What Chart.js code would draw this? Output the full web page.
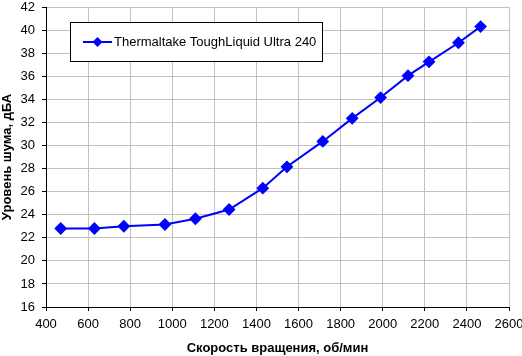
<!DOCTYPE html>
<html><head><meta charset="utf-8">
<script src="https://cdn.jsdelivr.net/npm/chart.js@4/dist/chart.umd.min.js"></script>
<style>html,body{margin:0;padding:0;background:#fff}#wrap{width:522px;height:356px}</style>
</head><body><div id="wrap"><canvas id="c" width="522" height="356"></canvas></div>
<script>
const seriesLabel = 'Thermaltake ToughLiquid Ultra 240';
const rpm = [470, 630, 770, 965, 1110, 1270, 1430, 1545, 1715, 1855, 1990, 2120, 2220, 2360, 2465];
const noise = [22.8, 22.8, 23.0, 23.15, 23.65, 24.45, 26.3, 28.15, 30.35, 32.35, 34.15, 36.05, 37.25, 38.9, 40.3];
const xTitle = 'Скорость вращения, об/мин';
const yTitle = 'Уровень шума, дБА';

const FONT = '"Liberation Sans", Arial, sans-serif';
const BLUE = '#0000ff';

const legendBox = {
  id: 'legendBox',
  afterDraw(chart) {
    const ctx = chart.ctx;
    ctx.save();
    ctx.fillStyle = '#fff';
    ctx.strokeStyle = '#000';
    ctx.lineWidth = 1;
    ctx.fillRect(70.5, 22.5, 252, 39);
    ctx.strokeRect(70.5, 22.5, 252, 39);
    const y = 42;
    ctx.strokeStyle = BLUE; ctx.lineWidth = 2;
    ctx.beginPath(); ctx.moveTo(83, y); ctx.lineTo(112, y); ctx.stroke();
    ctx.fillStyle = BLUE;
    ctx.beginPath(); ctx.moveTo(97.5, y-5); ctx.lineTo(102.5, y); ctx.lineTo(97.5, y+5); ctx.lineTo(92.5, y); ctx.closePath(); ctx.fill();
    ctx.fillStyle = '#000';
    ctx.font = '13px ' + FONT;
    ctx.textBaseline = 'middle';
    ctx.textAlign = 'left';
    ctx.fillText(chart.data.datasets[0].label, 114, y);
    ctx.restore();
  }
};

new Chart(document.getElementById('c'), {
  type: 'line',
  data: {
    datasets: [{
      label: seriesLabel,
      data: rpm.map((x, i) => ({x, y: noise[i]})),
      borderColor: BLUE,
      backgroundColor: BLUE,
      borderWidth: 2,
      pointStyle: 'rectRot',
      pointRadius: 5,
      pointHoverRadius: 5,
      tension: 0
    }]
  },
  options: {
    responsive: false,
    animation: false,
    layout: {padding: {top: 4, right: 13, left: 0, bottom: 0}},
    plugins: {legend: {display: false}, tooltip: {enabled: false}},
    scales: {
      x: {
        type: 'linear', min: 400, max: 2600,
        afterFit: s => { s.height = 49; s.paddingRight = 0; s.paddingLeft = 0; },
        ticks: {stepSize: 200, color: '#000', font: {family: FONT, size: 13}, padding: 6, maxRotation: 0, callback: v => String(v)},
        grid: {color: '#c0c0c0', lineWidth: 1, tickLength: 4, tickColor: '#000', drawTicks: true},
        border: {color: '#000', width: 1},
        title: {display: true, text: xTitle, color: '#000', font: {family: FONT, size: 13, weight: 'bold'}, padding: {top: 4, bottom: 0}}
      },
      y: {
        min: 16, max: 42,
        afterFit: s => { s.width = 46; s.paddingTop = 0; s.paddingBottom = 0; },
        ticks: {stepSize: 2, color: '#000', font: {family: FONT, size: 13}, padding: 7},
        grid: {color: '#c0c0c0', lineWidth: 1, tickLength: 4, tickColor: '#000'},
        border: {color: '#000', width: 1},
        title: {display: true, text: yTitle, color: '#000', font: {family: FONT, size: 13, weight: 'bold'}, padding: {top: 0, bottom: 0}}
      }
    }
  },
  plugins: [legendBox]
});
</script></body></html>
